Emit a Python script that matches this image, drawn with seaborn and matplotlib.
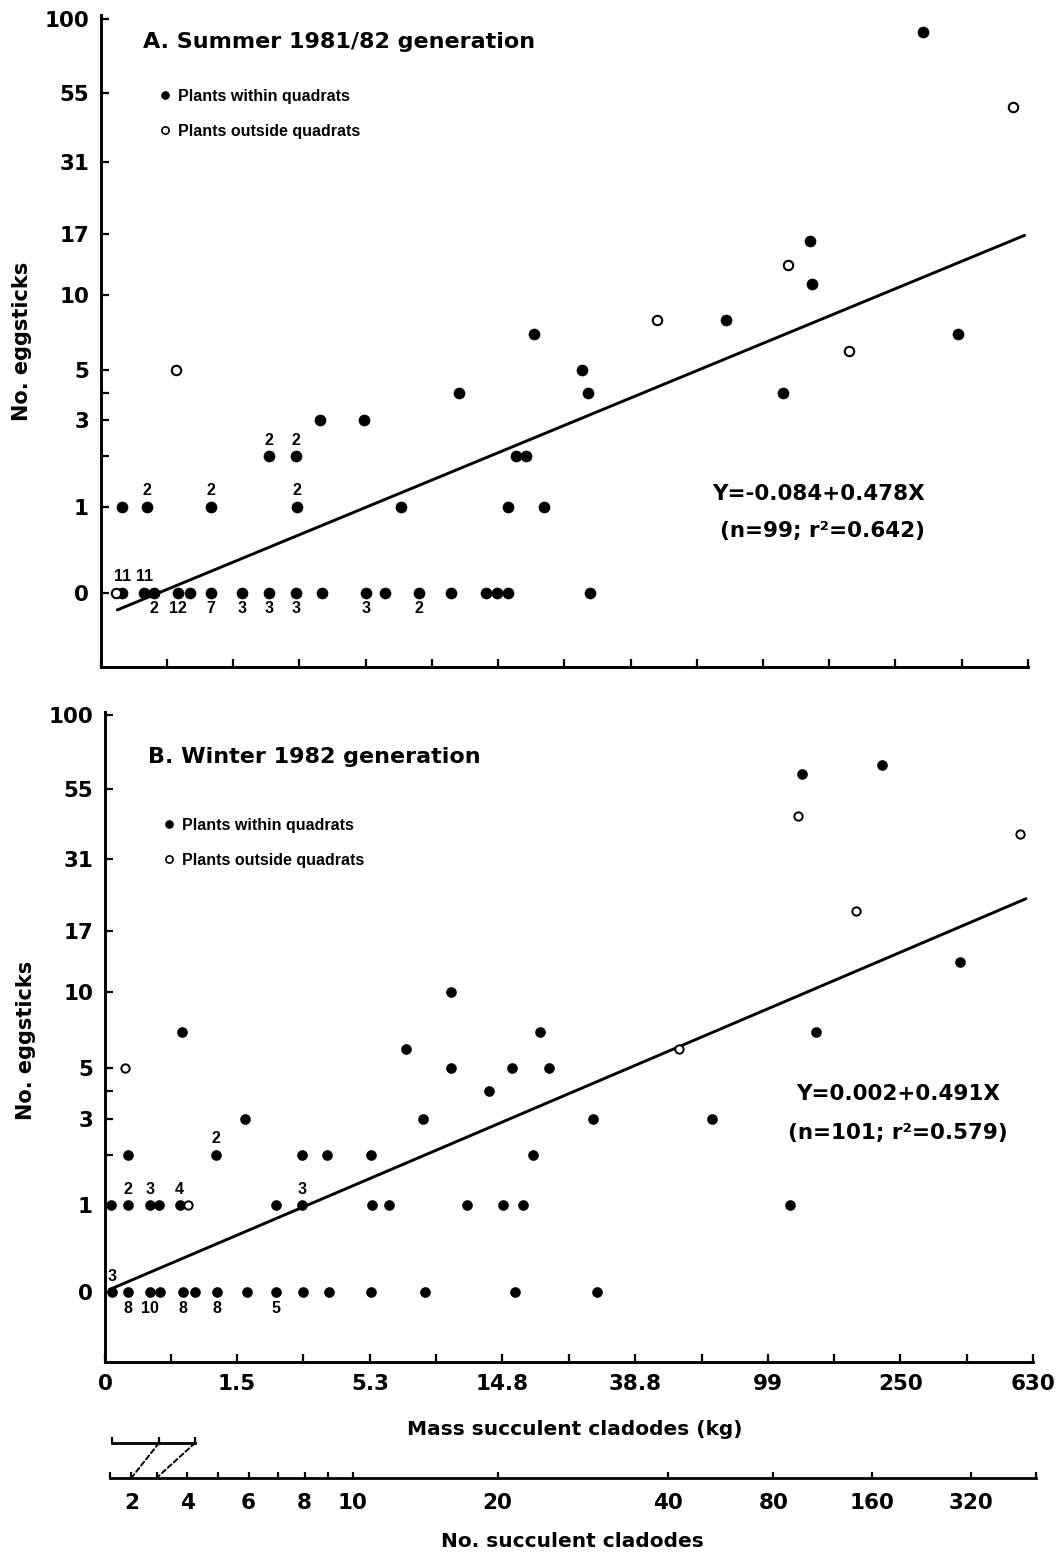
import numpy as np
import pandas as pd
import matplotlib
matplotlib.use("Agg")
import matplotlib.pyplot as plt
import seaborn as sns
from matplotlib.lines import Line2D
from matplotlib.patches import ConnectionPatch
from matplotlib.ticker import FixedLocator, NullFormatter

# ---------------------------------------------------------------------------
# A. Summer 1981/82 generation (n = 99)
# tally: number of plants sharing one point; side: 'a' above, 'b' below
# ---------------------------------------------------------------------------
summer_mass_kg = [0.11, 0.16, 0.35, 0.45, 0.71, 0.86, 1.15, 1.67, 2.22, 2.88,
                  3.65, 5.32, 6.21, 8.13, 10.4, 13.6, 14.7, 16.0, 29.0,
                  0.16, 0.38, 1.15, 2.91, 7.06, 16.0, 20.8,
                  2.22, 2.88, 16.9, 18.2,
                  3.59, 5.23,
                  11.1, 28.6, 114,
                  27.4, 0.69,
                  19.3, 387,
                  46.8, 76,
                  181, 139, 118, 138, 568, 303]
summer_eggsticks = [0, 0, 0, 0, 0, 0, 0, 0, 0, 0,
                    0, 0, 0, 0, 0, 0, 0, 0, 0,
                    1, 1, 1, 1, 1, 1, 1,
                    2, 2, 2, 2,
                    3, 3,
                    4, 4, 4,
                    5, 5,
                    7, 7,
                    8, 8,
                    6, 11, 13, 16, 49, 90]
summer_outside = [True, False, False, False, False, False, False, False, False, False,
                  False, False, False, False, False, False, False, False, False,
                  False, False, False, False, False, False, False,
                  False, False, False, False,
                  False, False,
                  False, False, False,
                  False, True,
                  False, False,
                  True, False,
                  True, False, True, False, True, False]
summer_tally = [1, 11, 11, 2, 12, 1, 7, 3, 3, 3,
                1, 3, 1, 2, 1, 1, 1, 1, 1,
                1, 2, 2, 2, 1, 1, 1,
                2, 2, 1, 1,
                1, 1,
                1, 1, 1,
                1, 1,
                1, 1,
                1, 1,
                1, 1, 1, 1, 1, 1]
summer_tally_side = ['', 'a', 'a', 'b', 'b', '', 'b', 'b', 'b', 'b',
                     '', 'b', '', 'b', '', '', '', '', '',
                     '', 'a', 'a', 'a', '', '', '',
                     'a', 'a', '', '',
                     '', '',
                     '', '', '',
                     '', '',
                     '', '',
                     '', '',
                     '', '', '', '', '', '']
summer_fit = (-0.084, 0.478)
summer_fit_range_kg = (0.12, 615)
summer_equation = ["Y=-0.084+0.478X", "(n=99; r\u00b2=0.642)"]
summer_title = "A. Summer 1981/82 generation"

# ---------------------------------------------------------------------------
# B. Winter 1982 generation (n = 101)
# ---------------------------------------------------------------------------
winter_mass_kg = [0.05, 0.17, 0.37, 0.47, 0.72, 0.87, 1.18, 1.68, 2.28, 2.96,
                  3.74, 5.35, 8.24, 16.3, 29.5,
                  0.04, 0.17, 0.37, 0.46, 0.68, 0.78, 2.28, 2.93, 5.39, 6.19,
                  11.4, 14.9, 17.2, 116,
                  0.17, 1.16, 2.93, 3.67, 5.35, 18.6,
                  1.65, 8.1, 28.7, 67,
                  13.4,
                  10.1, 15.9, 20.9, 0.15,
                  7.1, 53,
                  0.71, 19.5, 139,
                  10.1, 379, 184, 576, 122, 126, 220]
winter_eggsticks = [0, 0, 0, 0, 0, 0, 0, 0, 0, 0,
                    0, 0, 0, 0, 0,
                    1, 1, 1, 1, 1, 1, 1, 1, 1, 1,
                    1, 1, 1, 1,
                    2, 2, 2, 2, 2, 2,
                    3, 3, 3, 3,
                    4,
                    5, 5, 5, 5,
                    6, 6,
                    7, 7, 7,
                    10, 13, 20, 38, 44, 62, 67]
winter_outside = [False] * 20 + [True] + [False] * 22 + [True] + [False, True] + \
                 [False] * 5 + [True, True, True, False, False]
winter_tally = [3, 8, 10, 1, 8, 1, 8, 1, 5, 1,
                1, 1, 1, 1, 1,
                1, 2, 3, 1, 4, 1, 1, 3, 1, 1,
                1, 1, 1, 1,
                1, 2, 1, 1, 1, 1,
                1, 1, 1, 1,
                1,
                1, 1, 1, 1,
                1, 1,
                1, 1, 1,
                1, 1, 1, 1, 1, 1, 1]
winter_tally_side = ['a', 'b', 'b', '', 'b', '', 'b', '', 'b', '',
                     '', '', '', '', '',
                     '', 'a', 'a', '', 'a', '', '', 'a', '', '',
                     '', '', '', '',
                     '', 'a', '', '', '', '',
                     '', '', '', '',
                     '',
                     '', '', '', '',
                     '', '',
                     '', '', '',
                     '', '', '', '', '', '', '']
winter_fit = (0.002, 0.491)
winter_fit_range_kg = (0.03, 600)
winter_equation = ["Y=0.002+0.491X", "(n=101; r\u00b2=0.579)"]
winter_title = "B. Winter 1982 generation"

# ---------------------------------------------------------------------------
# Axis scales and labels
# ---------------------------------------------------------------------------
mass_tick_labels = ["0", "1.5", "5.3", "14.8", "38.8", "99", "250", "630"]
mass_ticks_kg = [0, 1.5, 5.3, 14.8, 38.8, 99, 250, 630]
egg_tick_labels = ["0", "1", "3", "5", "10", "17", "31", "55", "100"]
egg_ticks = [0, 1, 3, 5, 10, 17, 31, 55, 100]
egg_minor_ticks = [2, 4]

# succulent cladode counts and the equivalent mass (kg) on the lower scale
cladode_counts = [2, 3, 4, 5, 6, 7, 8, 9, 10, 20, 40, 80, 160, 320]
cladode_mass_kg = [0.2, 0.43, 0.77, 1.19, 1.71, 2.32, 3.0, 3.7, 4.6,
                   14.3, 49, 103, 205, 409]
cladode_labelled = [2, 4, 6, 8, 10, 20, 40, 80, 160, 320]
cladode_axis_kg = (0.035, 644)
cladode_inset_counts = [1, 2, 3]

legend_labels = ["Plants within quadrats", "Plants outside quadrats"]

# ---------------------------------------------------------------------------
sns.set_theme(style="white")
plt.rcParams["font.family"] = ["DejaVu Sans"]
plt.rcParams["text.color"] = "black"
plt.rcParams["axes.edgecolor"] = "black"
plt.rcParams["xtick.color"] = "black"
plt.rcParams["ytick.color"] = "black"

W, H = 1064, 1553
fig = plt.figure(figsize=(W / 100, H / 100), dpi=100)
fig.patch.set_facecolor("white")


def box(left, top, right, bottom):
    return [left / W, 1 - bottom / H, (right - left) / W, (bottom - top) / H]


def fwd(v):
    return np.log10(np.maximum(np.asarray(v, dtype=float) + 1.0, 1e-6))


def inv(v):
    return 10.0 ** np.asarray(v, dtype=float) - 1.0


BOLD = dict(fontweight="bold", color="black")
TICK_FS = 15.5

mass_minor_kg = inv((fwd(mass_ticks_kg[:-1]) + fwd(mass_ticks_kg[1:])) / 2)


def style_axes(ax, ylim_log, show_xlabels):
    ax.set_xscale("function", functions=(fwd, inv))
    ax.set_yscale("function", functions=(fwd, inv))
    ax.set_xlim(0, mass_ticks_kg[-1])
    ax.set_ylim(inv(ylim_log[0]), inv(ylim_log[1]))
    ax.set_facecolor("white")
    for s in ("top", "right"):
        ax.spines[s].set_visible(False)
    for s in ("left", "bottom"):
        ax.spines[s].set_linewidth(2.1)
        ax.spines[s].set_color("black")
    ax.set_xticks(mass_ticks_kg,
                  labels=mass_tick_labels if show_xlabels else [""] * len(mass_ticks_kg),
                  fontsize=TICK_FS, **BOLD)
    ax.xaxis.set_minor_locator(FixedLocator(mass_minor_kg))
    ax.xaxis.set_minor_formatter(NullFormatter())
    ax.set_yticks(egg_ticks, labels=egg_tick_labels, fontsize=TICK_FS, **BOLD)
    ax.yaxis.set_minor_locator(FixedLocator(egg_minor_ticks))
    ax.yaxis.set_minor_formatter(NullFormatter())
    ax.tick_params(which="both", direction="in", length=5.8, width=1.6,
                   color="black", bottom=True, left=True)
    ax.tick_params(axis="y", which="both", pad=8.6)
    ax.tick_params(axis="x", which="both", pad=8.6)
    ax.grid(False)


def draw_panel(ax, mass, eggs, outside, tally, side, fit, fit_range,
               filled_s, hollow_s, hollow_lw):
    df = pd.DataFrame({"mass": mass, "eggs": eggs, "outside": outside,
                       "tally": tally, "side": side})
    sns.scatterplot(data=df[~df["outside"]], x="mass", y="eggs", color="black",
                    s=filled_s, edgecolor="black", linewidth=0.4, ax=ax,
                    zorder=4, clip_on=False)
    sns.scatterplot(data=df[df["outside"]], x="mass", y="eggs",
                    facecolor="white", edgecolor="black", s=hollow_s,
                    linewidth=hollow_lw, ax=ax, zorder=5, clip_on=False)

    X = np.linspace(fwd(fit_range[0]), fwd(fit_range[1]), 80)
    line = pd.DataFrame({"mass": inv(X), "eggs": inv(fit[0] + fit[1] * X)})
    sns.lineplot(data=line, x="mass", y="eggs", color="black", lw=2.1,
                 sort=False, estimator=None, ax=ax, zorder=3)

    for _, r in df[df["side"] != ""].iterrows():
        dy = 11.5 if r["side"] == "a" else -11.5
        ax.annotate(str(int(r["tally"])), (r["mass"], r["eggs"]),
                    xytext=(0, dy), textcoords="offset points",
                    ha="center", va="center", fontsize=11.5,
                    family="Liberation Sans", **BOLD)
    ax.set_xlabel("")
    ax.set_ylabel("")


def add_legend(ax, left_px, top_px):
    handles = [
        Line2D([], [], ls="", marker="o", ms=5.2, mfc="black", mec="black"),
        Line2D([], [], ls="", marker="o", ms=5.2, mfc="white", mec="black", mew=1.2),
    ]
    ax.legend(handles, legend_labels, loc="upper left",
              bbox_to_anchor=(left_px / W, 1 - top_px / H),
              bbox_transform=fig.transFigure, frameon=False, borderpad=0,
              borderaxespad=0, handlelength=0.8, handletextpad=0.41,
              labelspacing=1.25,
              prop={"family": "Liberation Sans", "weight": "bold", "size": 11.5})


def fig_text(x, y, s, **kw):
    fig.text(x / W, 1 - y / H, s, **kw)


# ---- panel A --------------------------------------------------------------
ax_a = fig.add_axes(box(101, 15, 1028, 667))
style_axes(ax_a, (-0.26, 2.02), show_xlabels=False)
draw_panel(ax_a, summer_mass_kg, summer_eggsticks, summer_outside, summer_tally,
           summer_tally_side, summer_fit, summer_fit_range_kg, 64, 46, 1.5)
add_legend(ax_a, 158.6, 89)
fig_text(143, 48, summer_title, ha="left", va="baseline", fontsize=16, **BOLD)
fig_text(819, 500, summer_equation[0], ha="center", va="baseline", fontsize=15.5, **BOLD)
fig_text(822, 537, summer_equation[1], ha="center", va="baseline", fontsize=15.5, **BOLD)
fig_text(22, 341, "No. eggsticks", rotation=90, ha="center", va="center",
         fontsize=15, **BOLD)

# ---- panel B --------------------------------------------------------------
ax_b = fig.add_axes(box(105, 712, 1033, 1362))
style_axes(ax_b, (-0.243, 2.015), show_xlabels=True)
draw_panel(ax_b, winter_mass_kg, winter_eggsticks, winter_outside, winter_tally,
           winter_tally_side, winter_fit, winter_fit_range_kg, 52, 36, 1.4)
add_legend(ax_b, 162.6, 818)
fig_text(148, 763, winter_title, ha="left", va="baseline", fontsize=16, **BOLD)
fig_text(898, 1100, winter_equation[0], ha="center", va="baseline", fontsize=15.5, **BOLD)
fig_text(898, 1139, winter_equation[1], ha="center", va="baseline", fontsize=15.5, **BOLD)
fig_text(26, 1040, "No. eggsticks", rotation=90, ha="center", va="center",
         fontsize=15, **BOLD)
fig_text(575, 1435, "Mass succulent cladodes (kg)", ha="center", va="baseline",
         fontsize=14.5, **BOLD)

# ---- lower scale: number of succulent cladodes -----------------------------
ax_c = fig.add_axes(box(110, 1477, 1036, 1478))
ax_c.set_xscale("function", functions=(fwd, inv))
ax_c.set_xlim(*cladode_axis_kg)
ax_c.set_ylim(0, 1)
ax_c.set_facecolor("none")
for s in ("top", "right", "left"):
    ax_c.spines[s].set_visible(False)
ax_c.spines["bottom"].set_linewidth(2.0)
ax_c.spines["bottom"].set_color("black")
lab_mass = [m for n, m in zip(cladode_counts, cladode_mass_kg) if n in cladode_labelled]
ax_c.set_xticks(lab_mass, labels=[str(n) for n in cladode_labelled],
                fontsize=TICK_FS, **BOLD)
minor_mass = [m for n, m in zip(cladode_counts, cladode_mass_kg)
              if n not in cladode_labelled] + list(cladode_axis_kg)
ax_c.xaxis.set_minor_locator(FixedLocator(minor_mass))
ax_c.xaxis.set_minor_formatter(NullFormatter())
ax_c.set_yticks([])
ax_c.tick_params(axis="x", which="both", direction="in", length=4.5, width=1.6,
                 color="black", pad=11, bottom=True)
fig_text(572, 1547, "No. succulent cladodes", ha="center", va="baseline",
         fontsize=14.5, **BOLD)

# small expanded segment for the first cladodes, linked by dashed guides
ax_s = fig.add_axes(box(112, 1442, 195, 1443))
ax_s.set_xscale("function", functions=(lambda v: np.sqrt(np.maximum(v, 0)),
                                       np.square))
ax_s.set_xlim(cladode_inset_counts[0], cladode_inset_counts[-1])
ax_s.set_ylim(0, 1)
ax_s.set_facecolor("none")
for s in ("top", "right", "left"):
    ax_s.spines[s].set_visible(False)
ax_s.spines["bottom"].set_linewidth(2.0)
ax_s.set_xticks(cladode_inset_counts, labels=[""] * len(cladode_inset_counts))
ax_s.set_yticks([])
ax_s.tick_params(axis="x", direction="in", length=4.5, width=1.6, color="black",
                 bottom=True)

for n in cladode_inset_counts[1:]:
    con = ConnectionPatch(xyA=(n, 0), coordsA="data", axesA=ax_s,
                          xyB=(cladode_mass_kg[cladode_counts.index(n)], 0),
                          coordsB="data", axesB=ax_c,
                          linestyle=(0, (2.5, 1.6)), lw=1.4, color="black")
    fig.add_artist(con)

fig.savefig("out.png", dpi=100, facecolor="white")
